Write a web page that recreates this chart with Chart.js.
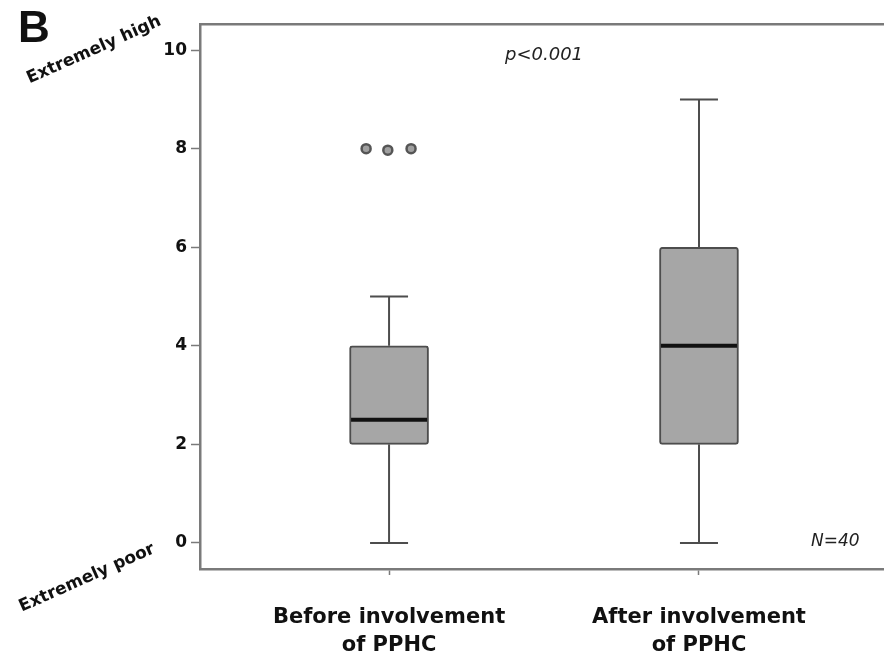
<!DOCTYPE html>
<html>
<head>
<meta charset="utf-8">
<script src="https://cdn.jsdelivr.net/npm/chart.js@4"></script>
<style>
  html, body { margin: 0; padding: 0; background: #fff; }
  #wrap { width: 884px; height: 665px; position: relative; }
</style>
</head>
<body>
<div id="wrap"><canvas id="boxChart"></canvas></div>
<script>
// ── data ──
const groups = [['Before involvement', 'of PPHC'], ['After involvement', 'of PPHC']];
const groupPos = [1, 2];
const whiskerMin = [0, 0];
const q1 = [2, 2];
const median = [2.5, 4];
const q3 = [4, 6];
const whiskerMax = [5, 9];
// outliers of the first group, drawn side by side
const outlierX = [0.926, 0.996, 1.071];
const outlierY = [8, 7.97, 8];
const yTicks = [0, 2, 4, 6, 8, 10];

const axisGrey = '#7a7a7a';
const lineGrey = '#4d4d4d';
const font = 'DejaVu Sans';

// whisker segments, one line dataset each
const whiskers = [];
groupPos.forEach((x, i) => {
    [[whiskerMin[i], q1[i]], [q3[i], whiskerMax[i]]].forEach(seg => {
        whiskers.push({
            type: 'line',
            data: [{ x: x, y: seg[0] }, { x: x, y: seg[1] }],
            borderColor: lineGrey,
            borderWidth: 2,
            pointRadius: 0,
            order: 2
        });
    });
});

// free text around the plot
const notes = {
    id: 'notes',
    afterDraw(chart) {
        const ctx = chart.ctx;
        const xs = chart.scales.x, ys = chart.scales.y;
        ctx.save();
        ctx.fillStyle = '#111';
        ctx.textAlign = 'left';
        ctx.textBaseline = 'alphabetic';
        ctx.font = 'bold 44px "Liberation Sans"';
        ctx.fillText('B', 18, 42);

        ctx.font = 'italic 18px ' + font;
        ctx.fillStyle = '#222';
        ctx.textAlign = 'center';
        ctx.textBaseline = 'middle';
        ctx.fillText('p<0.001', xs.getPixelForValue(1.5), ys.getPixelForValue(9.9));
        ctx.font = 'italic 17px ' + font;
        ctx.fillText('N=40', xs.getPixelForValue(2.44), ys.getPixelForValue(0.03));

        ctx.font = 'bold 17px ' + font;
        ctx.fillStyle = '#111';
        [['Extremely high', 94, 50], ['Extremely poor', 87, 578]].forEach(t => {
            ctx.save();
            ctx.translate(t[1], t[2]);
            ctx.rotate(-24 * Math.PI / 180);
            ctx.fillText(t[0], 0, 0);
            ctx.restore();
        });
        ctx.restore();
    }
};

new Chart(document.getElementById('boxChart'), {
    type: 'bar',
    data: {
        datasets: [
            {
                type: 'scatter',
                data: groupPos.map((x, i) => ({ x: x, y: median[i] })),
                pointStyle: 'line',
                pointRadius: 38,
                borderColor: '#111',
                borderWidth: 4,
                order: 0
            },
            {
                type: 'scatter',
                data: groupPos.flatMap((x, i) => [{ x: x, y: whiskerMin[i] }, { x: x, y: whiskerMax[i] }]),
                pointStyle: 'line',
                pointRadius: 19,
                borderColor: lineGrey,
                borderWidth: 2,
                order: 1
            },
            {
                type: 'scatter',
                data: outlierX.map((x, i) => ({ x: x, y: outlierY[i] })),
                pointRadius: 4.5,
                backgroundColor: '#a0a0a0',
                borderColor: '#555',
                borderWidth: 2.5,
                order: 1
            },
            ...whiskers,
            {
                type: 'bar',
                data: groupPos.map((x, i) => ({ x: x, y: [q1[i], q3[i]] })),
                backgroundColor: '#a6a6a6',
                borderColor: lineGrey,
                borderWidth: 2,
                borderSkipped: false,
                borderRadius: 3,
                barThickness: 79,
                grouped: false,
                order: 3
            }
        ]
    },
    options: {
        responsive: true,
        maintainAspectRatio: false,
        animation: false,
        layout: { autoPadding: false, padding: { top: 24, left: 0, right: 0, bottom: 0 } },
        plugins: { legend: { display: false }, tooltip: { enabled: false } },
        scales: {
            x: {
                type: 'linear',
                min: 0.39,
                max: 2.597,
                offset: false,
                afterBuildTicks: s => { s.ticks = groupPos.map(v => ({ value: v })); },
                afterFit: s => { s.height = 96; },
                grid: { offset: false, drawOnChartArea: false, tickLength: 6, tickWidth: 1.5, color: axisGrey },
                border: { color: axisGrey, width: 2.5 },
                ticks: {
                    padding: 29,
                    color: '#111',
                    font: { family: font, size: 21, weight: 'bold', lineHeight: 1.33 },
                    callback: v => groups[groupPos.indexOf(v)] || ''
                }
            },
            x2: {
                type: 'linear',
                position: 'top',
                min: 0.39,
                max: 2.597,
                offset: false,
                afterFit: s => { s.height = 0; },
                grid: { display: false },
                ticks: { display: false },
                border: { color: axisGrey, width: 2.5 }
            },
            y: {
                min: -0.53,
                max: 10.53,
                afterBuildTicks: s => { s.ticks = yTicks.map(v => ({ value: v })); },
                afterFit: s => { s.width = 200; },
                grid: { drawOnChartArea: false, tickLength: 9, tickWidth: 1.5, color: axisGrey },
                border: { color: axisGrey, width: 2.5 },
                ticks: {
                    padding: 4,
                    color: '#111',
                    font: { family: font, size: 17, weight: 'bold' }
                }
            }
        }
    },
    plugins: [notes]
});
</script>
</body>
</html>
